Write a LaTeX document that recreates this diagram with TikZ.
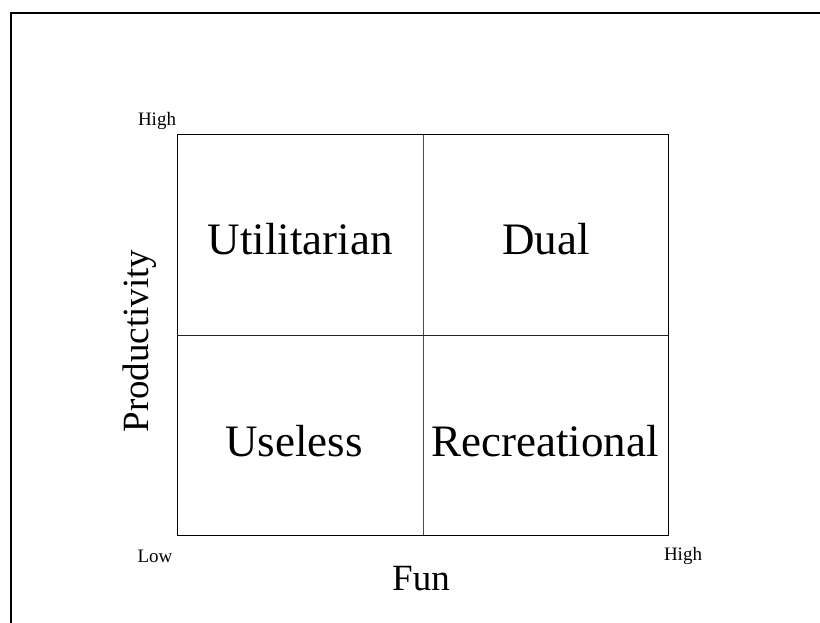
\documentclass[tikz,border=0pt]{standalone}
\usepackage{fontspec}
\setmainfont{Liberation Serif}
\begin{document}
\begin{tikzpicture}[x=1pt,y=-1pt,
  quad/.style={font=\fontsize{45}{48}\selectfont},
  axis/.style={font=\fontsize{37}{40}\selectfont},
  tick/.style={font=\fontsize{19}{22}\selectfont},
  grid/.style={draw=black,line width=1pt}]
\useasboundingbox (0,0) rectangle (820,623);
\draw[line width=2.5pt] (11,623) -- (11,13) -- (820,13);
\coordinate (bl) at (177,535);
\coordinate (tr) at (668,135);
\draw[grid] (bl) rectangle (tr);
\draw[grid,draw=black!70] (423,135) -- (423,535);
\draw[grid,draw=black!85] (177,335) -- (668,335);
\node[quad] (util) at (300,239) {Utilitarian};
\node[quad] (dual) at (546,239) {Dual};
\node[quad] (useless) at (294,441) {Useless};
\node[quad] (recr) at (545,441) {Recreational};
\node[axis] (fun) at (421,579) {Fun};
\node[axis,rotate=90] (prod) at (140,341) {Productivity};
\node[tick] (hightop) at (157,121) {High};
\node[tick] (low) at (155,556) {Low};
\node[tick] (highbot) at (683,556) {High};
\end{tikzpicture}
\end{document}
